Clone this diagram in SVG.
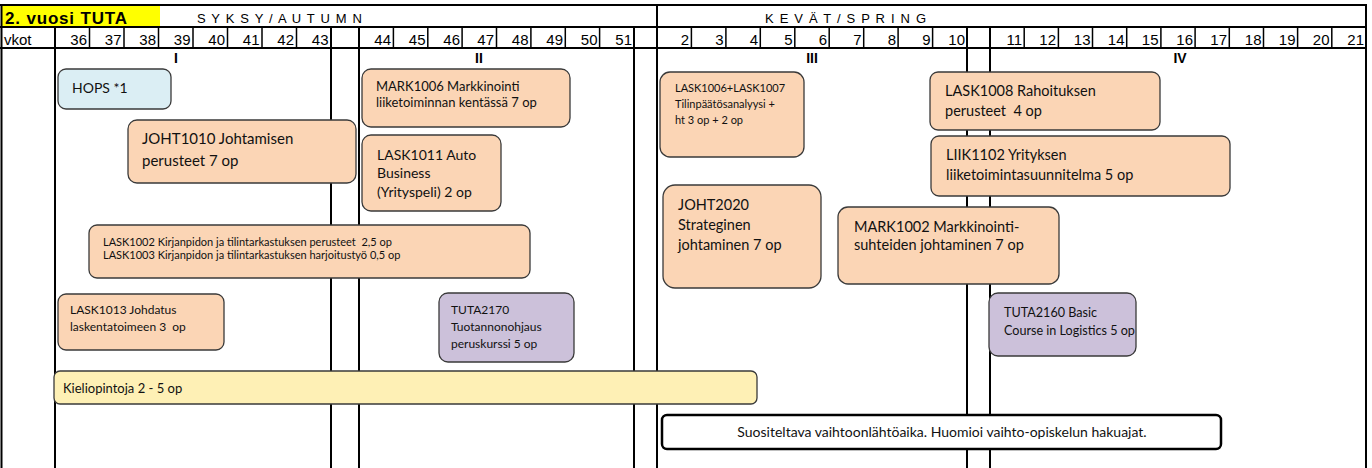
<svg xmlns="http://www.w3.org/2000/svg" width="1372" height="468" viewBox="0 0 1372 468">
<style>
.h{font-family:"Liberation Sans",Arial,sans-serif;fill:#000}
.wk{font-family:"Liberation Sans",Arial,sans-serif;font-size:15px;text-anchor:end}
.rn{font-family:"Liberation Sans",Arial,sans-serif;font-size:14px;font-weight:bold;text-anchor:middle}
.b{stroke:#000;stroke-width:2;fill:none}
.s{stroke:#000;stroke-width:1.5;fill:none}
.box{stroke:#3a3a3a;stroke-width:1.3}
.peach{fill:#FBD5B5}
.blue{fill:#DBEEF4}
.lav{fill:#CCC1DA}
.yel{fill:#FEF0B5}
.t{font-family:Lato,"Open Sans",sans-serif;fill:#111}
</style>
<rect width="1372" height="468" fill="#fff"/>
<g id="header">
<rect x="2" y="6" width="158" height="21" fill="#FFFF00"/>
<text class="h" x="5" y="23.5" font-size="17" font-weight="bold" textLength="122" lengthAdjust="spacing">2. vuosi TUTA</text>
<text class="h" x="197" y="23" font-size="13" textLength="165" lengthAdjust="spacing">S Y K S Y / A U T U M N</text>
<text class="h" x="765" y="23" font-size="13" textLength="161" lengthAdjust="spacing">K E V Ä T / S P R I N G</text>
<text class="h" x="4" y="45" font-size="15">vkot</text>
<g class="wk">
<text x="87" y="45">36</text><text x="121.5" y="45">37</text><text x="156" y="45">38</text><text x="190.5" y="45">39</text><text x="225" y="45">40</text><text x="259.5" y="45">41</text><text x="294" y="45">42</text><text x="328.5" y="45">43</text>
<text x="391" y="45">44</text><text x="425.5" y="45">45</text><text x="460" y="45">46</text><text x="494" y="45">47</text><text x="528.5" y="45">48</text><text x="563" y="45">49</text><text x="597.5" y="45">50</text><text x="632" y="45">51</text>
<text x="689" y="45">2</text><text x="723.5" y="45">3</text><text x="758" y="45">4</text><text x="792.5" y="45">5</text><text x="827" y="45">6</text><text x="861.5" y="45">7</text><text x="896" y="45">8</text><text x="930.5" y="45">9</text><text x="965" y="45">10</text>
<text x="1022" y="45">11</text><text x="1056" y="45">12</text><text x="1090.5" y="45">13</text><text x="1124.5" y="45">14</text><text x="1158.5" y="45">15</text><text x="1193" y="45">16</text><text x="1227" y="45">17</text><text x="1261.5" y="45">18</text><text x="1295.5" y="45">19</text><text x="1329.5" y="45">20</text><text x="1364" y="45">21</text>
</g>
<g class="rn">
<text x="176" y="63">I</text><text x="479" y="63">II</text><text x="812" y="63">III</text><text x="1180" y="63">IV</text>
</g>
</g>
<g id="grid">
<path class="b" d="M0 5H1367M0 27H1367M0 48H1367"/>
<path class="b" d="M1.5 5V468M1366 5V468M657 5V468M55 27V468M331 27V468M359 27V468M634 27V468M967 27V468M990 27V468"/>
<path class="s" d="M89.5 27V48M124 27V48M158.5 27V48M193 27V48M227.5 27V48M262 27V48M296.5 27V48
M393.4 27V48M427.8 27V48M462.1 27V48M496.5 27V48M530.9 27V48M565.3 27V48M599.6 27V48
M691.4 27V48M725.9 27V48M760.3 27V48M794.8 27V48M829.2 27V48M863.7 27V48M898.1 27V48M932.6 27V48
M1024.2 27V48M1058.4 27V48M1092.5 27V48M1126.7 27V48M1160.9 27V48M1195.1 27V48M1229.3 27V48M1263.5 27V48M1297.6 27V48M1331.8 27V48"/>
</g>
<g id="hops">
<rect class="box blue" x="58" y="69" width="113" height="40" rx="8"/>
<text class="t" x="72" y="93" font-size="14">HOPS *1</text>
</g>
<g id="joht1010">
<rect class="box peach" x="128" y="120" width="228" height="63" rx="9"/>
<text class="t" font-size="15"><tspan x="142" y="144">JOHT1010 Johtamisen</tspan><tspan x="142" y="166">perusteet 7 op</tspan></text>
</g>
<g id="mark1006">
<rect class="box peach" x="362" y="69" width="208" height="58" rx="9"/>
<text class="t" font-size="13"><tspan x="376" y="91">MARK1006 Markkinointi</tspan><tspan x="376" y="107">liiketoiminnan kentässä 7 op</tspan></text>
</g>
<g id="lask1011">
<rect class="box peach" x="362" y="135" width="139" height="76" rx="9"/>
<text class="t" font-size="14"><tspan x="377" y="160">LASK1011 Auto</tspan><tspan x="377" y="178">Business</tspan><tspan x="377" y="197">(Yrityspeli) 2 op</tspan></text>
</g>
<g id="lask1006">
<rect class="box peach" x="660" y="72" width="144" height="85" rx="10"/>
<text class="t" font-size="11"><tspan x="675" y="92">LASK1006+LASK1007</tspan><tspan x="675" y="108">Tilinpäätösanalyysi +</tspan><tspan x="675" y="124">ht 3 op + 2 op</tspan></text>
</g>
<g id="lask1008">
<rect class="box peach" x="930" y="72" width="230" height="58" rx="8"/>
<text class="t" font-size="14.5"><tspan x="945" y="96">LASK1008 Rahoituksen</tspan><tspan x="945" y="116" xml:space="preserve">perusteet  4 op</tspan></text>
</g>
<g id="liik1102">
<rect class="box peach" x="931" y="136" width="299" height="60" rx="8"/>
<text class="t" font-size="14.5"><tspan x="946" y="160">LIIK1102 Yrityksen</tspan><tspan x="946" y="180">liiketoimintasuunnitelma 5 op</tspan></text>
</g>
<g id="joht2020">
<rect class="box peach" x="663" y="185" width="158" height="103" rx="12"/>
<text class="t" font-size="14.5"><tspan x="678" y="210">JOHT2020</tspan><tspan x="678" y="230">Strateginen</tspan><tspan x="678" y="250">johtaminen 7 op</tspan></text>
</g>
<g id="mark1002">
<rect class="box peach" x="838" y="207" width="221" height="77" rx="10"/>
<text class="t" font-size="14.5"><tspan x="854" y="232">MARK1002 Markkinointi-</tspan><tspan x="854" y="250">suhteiden johtaminen 7 op</tspan></text>
</g>
<g id="lask1002">
<rect class="box peach" x="89" y="225" width="441" height="53" rx="8"/>
<text class="t" font-size="11"><tspan x="103" y="246" xml:space="preserve">LASK1002 Kirjanpidon ja tilintarkastuksen perusteet  2,5 op</tspan><tspan x="103" y="259">LASK1003 Kirjanpidon ja tilintarkastuksen harjoitustyö 0,5 op</tspan></text>
</g>
<g id="lask1013">
<rect class="box peach" x="58" y="294" width="166" height="56" rx="8"/>
<text class="t" font-size="12"><tspan x="70" y="314">LASK1013 Johdatus</tspan><tspan x="70" y="331" xml:space="preserve">laskentatoimeen 3  op</tspan></text>
</g>
<g id="tuta2170">
<rect class="box lav" x="439" y="293" width="135" height="69" rx="9"/>
<text class="t" font-size="12"><tspan x="451" y="314">TUTA2170</tspan><tspan x="451" y="331">Tuotannonohjaus</tspan><tspan x="451" y="348">peruskurssi 5 op</tspan></text>
</g>
<g id="tuta2160">
<rect class="box lav" x="989" y="293" width="147" height="63" rx="9"/>
<text class="t" font-size="12.6"><tspan x="1004" y="317">TUTA2160 Basic</tspan><tspan x="1004" y="335">Course in Logistics 5 op</tspan></text>
</g>
<g id="kieli">
<rect class="box yel" x="54" y="371" width="703" height="33" rx="6" stroke="#8a8060"/>
<text class="t" x="63" y="393" font-size="13">Kieliopintoja 2 - 5 op</text>
</g>
<g id="vaihto">
<rect x="662" y="415" width="559" height="34" rx="5" fill="#fff" stroke="#000" stroke-width="2.5"/>
<text class="t" x="942" y="437" font-size="14" text-anchor="middle">Suositeltava vaihtoonlähtöaika. Huomioi vaihto-opiskelun hakuajat.</text>
</g>
</svg>
